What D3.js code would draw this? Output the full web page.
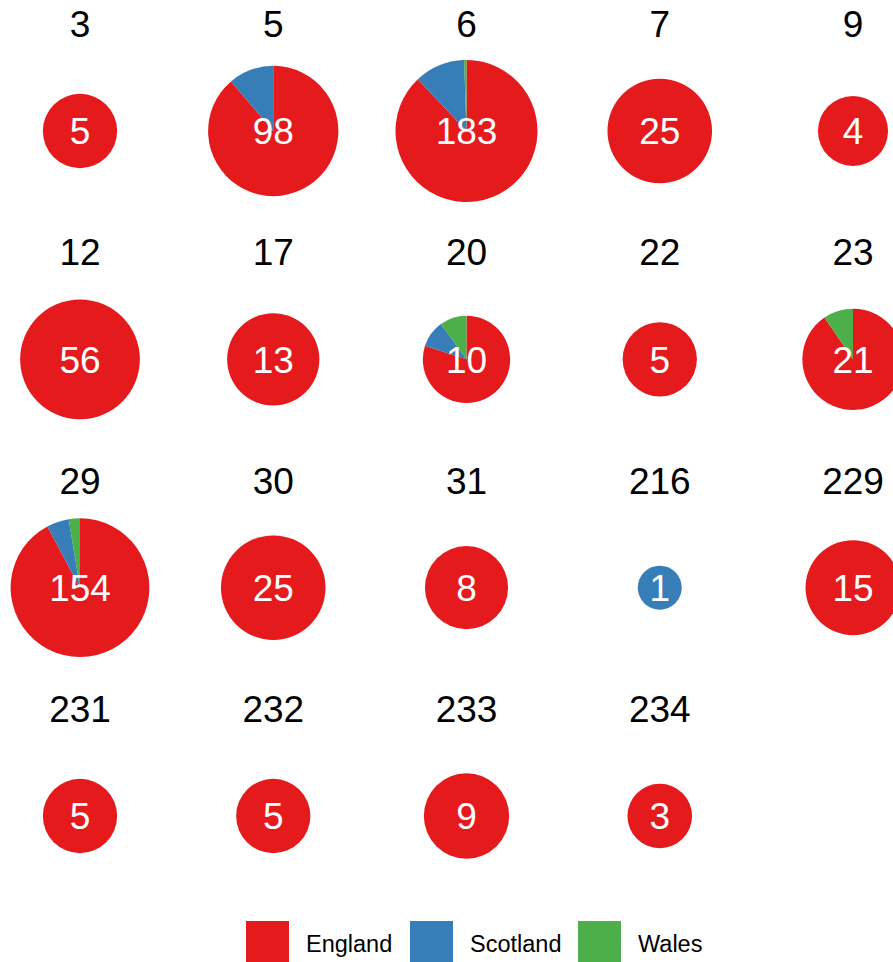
<!DOCTYPE html>
<meta charset="utf-8">
<script src="https://d3js.org/d3.v7.min.js"></script>
<style>
  body { margin: 0; background: #fff; }
  text { font-family: "Liberation Sans", Arial, sans-serif; }
</style>
<div id="my_dataviz"></div>
<script>

    // groups and counts per country
    var ids      = [3, 5, 6, 7, 9, 12, 17, 20, 22, 23, 29, 30, 31, 216, 229, 231, 232, 233, 234];
    var england  = [5, 87, 161, 25, 4, 56, 13, 8, 5, 19, 142, 25, 8, 0, 15, 5, 5, 9, 3];
    var scotland = [0, 11, 21, 0, 0, 0, 0, 1, 0, 0, 8, 0, 0, 1, 0, 0, 0, 0, 0];
    var wales    = [0, 0, 1, 0, 0, 0, 0, 1, 0, 2, 4, 0, 0, 0, 0, 0, 0, 0, 0];
    var countries = ["England", "Scotland", "Wales"];
    var colors = ["#E41A1C", "#377EB8", "#4DAF4A"];

    var width = 893, height = 962, ncol = 5;

    var svg = d3.select("#my_dataviz")
      .append("svg")
        .attr("width", width)
        .attr("height", height);

    var data = ids.map(function(id, i) {
      return { id: id, i: i, values: [england[i], scotland[i], wales[i]],
               total: england[i] + scotland[i] + wales[i] };
    });

    var xScale = d3.scalePoint().domain(d3.range(ncol)).range([80, 853]);
    var yScale = d3.scalePoint().domain(d3.range(4)).range([131, 816]);
    var rScale = d3.scaleLog()
      .domain([1, d3.max(data, function(d) { return d.total; })])
      .range([22, 71]);
    var color = d3.scaleOrdinal().domain(d3.range(3)).range(colors);

    var pie = d3.pie().sort(null).value(function(d) { return d; });

    var cell = svg.selectAll(".cell")
      .data(data)
      .enter().append("g")
        .attr("transform", function(d) {
          return "translate(" + xScale(d.i % ncol) + "," + yScale(Math.floor(d.i / ncol)) + ")";
        });

    // title
    cell.append("text")
      .attr("y", -94)
      .attr("text-anchor", "middle")
      .style("font-size", "37px")
      .text(function(d) { return d.id; });

    // slices
    cell.each(function(d) {
      var arc = d3.arc().innerRadius(0).outerRadius(rScale(d.total));
      d3.select(this).selectAll("path")
        .data(pie(d.values))
        .enter().append("path")
          .attr("d", arc)
          .attr("fill", function(s, k) { return color(k); });
    });

    // totals
    cell.append("text")
      .attr("dy", "0.36em")
      .attr("text-anchor", "middle")
      .attr("fill", "white")
      .style("font-size", "37px")
      .text(function(d) { return d.total; });

    // legend
    var legX = [246, 410, 578];
    var legend = svg.selectAll(".legend")
      .data(countries)
      .enter().append("g")
        .attr("transform", function(d, k) { return "translate(" + legX[k] + ",921)"; });
    legend.append("rect")
      .attr("width", 43)
      .attr("height", 41)
      .attr("fill", function(d, k) { return color(k); });
    legend.append("text")
      .attr("x", 60)
      .attr("y", 31)
      .style("font-size", "23.5px")
      .text(function(d) { return d; });

</script>
